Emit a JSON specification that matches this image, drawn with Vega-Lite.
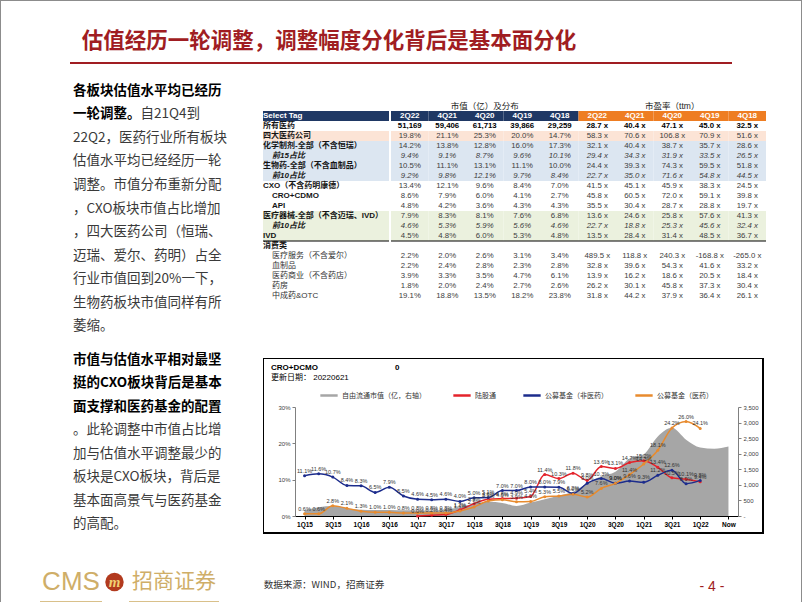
{
 "$schema": "https://vega.github.io/schema/vega-lite/v6.json",
 "padding": 0,
 "background": "#ffffff",
 "spacing": 0,
 "config": {"view": {"stroke": null}, "concat": {"spacing": 0}, "font": "Noto Sans CJK SC"},
 "datasets": {
  "para1": [
   {"line":1,"at":0,"part":"lead","t":"各板块估值水平均已经历"},
   {"line":2,"at":0,"part":"lead","t":"一轮调整。"},
   {"line":2,"at":5,"part":"body","t":"自21Q4到"},
   {"line":3,"at":0,"part":"body","t":"22Q2，医药行业所有板块"},
   {"line":4,"at":0,"part":"body","t":"估值水平均已经经历一轮"},
   {"line":5,"at":0,"part":"body","t":"调整。市值分布重新分配"},
   {"line":6,"at":0,"part":"body","t":"，CXO板块市值占比增加"},
   {"line":7,"at":0,"part":"body","t":"，四大医药公司（恒瑞、"},
   {"line":8,"at":0,"part":"body","t":"迈瑞、爱尔、药明）占全"},
   {"line":9,"at":0,"part":"body","t":"行业市值回到20%一下，"},
   {"line":10,"at":0,"part":"body","t":"生物药板块市值同样有所"},
   {"line":11,"at":0,"part":"body","t":"萎缩。"}
  ],
  "para2": [
   {"line":1,"at":0,"part":"lead","t":"市值与估值水平相对最坚"},
   {"line":2,"at":0,"part":"lead","t":"挺的CXO板块背后是基本"},
   {"line":3,"at":0,"part":"lead","t":"面支撑和医药基金的配置"},
   {"line":4,"at":0,"part":"body","t":"。此轮调整中市值占比增"},
   {"line":5,"at":0,"part":"body","t":"加与估值水平调整最少的"},
   {"line":6,"at":0,"part":"body","t":"板块是CXO板块，背后是"},
   {"line":7,"at":0,"part":"body","t":"基本面高景气与医药基金"},
   {"line":8,"at":0,"part":"body","t":"的高配。"}
  ],
  "table": [
   {"rid":0,"label":"","lvl":0,"kind":"title","grp":"none","mv2Q22":"","mv4Q21":"","mv4Q20":"市值（亿）及分布","mv4Q19":"","mv4Q18":"","pe2Q22":"","pe4Q21":"","pe4Q20":"市盈率（ttm）","pe4Q19":"","pe4Q18":""},
   {"rid":1,"label":"Select Tag","lvl":0,"kind":"header","grp":"header","mv2Q22":"2Q22","mv4Q21":"4Q21","mv4Q20":"4Q20","mv4Q19":"4Q19","mv4Q18":"4Q18","pe2Q22":"2Q22","pe4Q21":"4Q21","pe4Q20":"4Q20","pe4Q19":"4Q19","pe4Q18":"4Q18"},
   {"rid":2,"label":"所有医药","lvl":0,"kind":"total","grp":"none","mv2Q22":"51,169","mv4Q21":"59,406","mv4Q20":"61,713","mv4Q19":"39,866","mv4Q18":"29,259","pe2Q22":"28.7 x","pe4Q21":"40.4 x","pe4Q20":"47.1 x","pe4Q19":"45.0 x","pe4Q18":"32.5 x"},
   {"rid":3,"label":"四大医药公司","lvl":0,"kind":"main","grp":"big4","mv2Q22":"19.8%","mv4Q21":"21.1%","mv4Q20":"25.3%","mv4Q19":"20.0%","mv4Q18":"14.7%","pe2Q22":"58.3 x","pe4Q21":"70.6 x","pe4Q20":"106.8 x","pe4Q19":"70.9 x","pe4Q18":"51.6 x"},
   {"rid":4,"label":"化学制剂-全部（不含恒瑞）","lvl":0,"kind":"main","grp":"pharma","mv2Q22":"14.2%","mv4Q21":"13.8%","mv4Q20":"12.8%","mv4Q19":"16.0%","mv4Q18":"17.3%","pe2Q22":"32.1 x","pe4Q21":"40.4 x","pe4Q20":"38.7 x","pe4Q19":"35.7 x","pe4Q18":"28.6 x"},
   {"rid":5,"label":"前15占比","lvl":1,"kind":"share","grp":"pharma","mv2Q22":"9.4%","mv4Q21":"9.1%","mv4Q20":"8.7%","mv4Q19":"9.6%","mv4Q18":"10.1%","pe2Q22":"29.4 x","pe4Q21":"34.3 x","pe4Q20":"31.9 x","pe4Q19":"33.5 x","pe4Q18":"26.5 x"},
   {"rid":6,"label":"生物药-全部（不含血制品）","lvl":0,"kind":"main","grp":"pharma","mv2Q22":"10.5%","mv4Q21":"11.1%","mv4Q20":"13.1%","mv4Q19":"11.1%","mv4Q18":"10.0%","pe2Q22":"24.4 x","pe4Q21":"39.3 x","pe4Q20":"74.3 x","pe4Q19":"59.5 x","pe4Q18":"51.8 x"},
   {"rid":7,"label":"前10占比","lvl":1,"kind":"share","grp":"pharma","mv2Q22":"9.2%","mv4Q21":"9.8%","mv4Q20":"12.1%","mv4Q19":"9.7%","mv4Q18":"8.4%","pe2Q22":"22.7 x","pe4Q21":"35.0 x","pe4Q20":"71.6 x","pe4Q19":"54.8 x","pe4Q18":"44.5 x"},
   {"rid":8,"label":"CXO（不含药明康德）","lvl":0,"kind":"main","grp":"none","mv2Q22":"13.4%","mv4Q21":"12.1%","mv4Q20":"9.6%","mv4Q19":"8.4%","mv4Q18":"7.0%","pe2Q22":"41.5 x","pe4Q21":"45.1 x","pe4Q20":"45.9 x","pe4Q19":"38.3 x","pe4Q18":"24.5 x"},
   {"rid":9,"label":"CRO+CDMO","lvl":1,"kind":"sub","grp":"none","mv2Q22":"8.6%","mv4Q21":"7.9%","mv4Q20":"6.0%","mv4Q19":"4.1%","mv4Q18":"2.7%","pe2Q22":"45.8 x","pe4Q21":"60.5 x","pe4Q20":"72.0 x","pe4Q19":"59.1 x","pe4Q18":"39.8 x"},
   {"rid":10,"label":"API","lvl":1,"kind":"sub","grp":"none","mv2Q22":"4.8%","mv4Q21":"4.2%","mv4Q20":"3.6%","mv4Q19":"4.3%","mv4Q18":"4.3%","pe2Q22":"35.5 x","pe4Q21":"30.4 x","pe4Q20":"28.7 x","pe4Q19":"28.8 x","pe4Q18":"19.7 x"},
   {"rid":11,"label":"医疗器械-全部（不含迈瑞、IVD）","lvl":0,"kind":"main","grp":"device","mv2Q22":"7.9%","mv4Q21":"8.3%","mv4Q20":"8.1%","mv4Q19":"7.6%","mv4Q18":"6.8%","pe2Q22":"13.6 x","pe4Q21":"24.6 x","pe4Q20":"25.8 x","pe4Q19":"57.6 x","pe4Q18":"41.3 x"},
   {"rid":12,"label":"前10占比","lvl":1,"kind":"share","grp":"device","mv2Q22":"4.6%","mv4Q21":"5.3%","mv4Q20":"5.9%","mv4Q19":"5.6%","mv4Q18":"4.6%","pe2Q22":"22.7 x","pe4Q21":"18.8 x","pe4Q20":"25.3 x","pe4Q19":"45.6 x","pe4Q18":"32.4 x"},
   {"rid":13,"label":"IVD","lvl":0,"kind":"main","grp":"device","mv2Q22":"4.5%","mv4Q21":"4.8%","mv4Q20":"6.0%","mv4Q19":"5.3%","mv4Q18":"4.8%","pe2Q22":"13.5 x","pe4Q21":"28.4 x","pe4Q20":"31.4 x","pe4Q19":"48.5 x","pe4Q18":"36.7 x"},
   {"rid":14,"label":"消费类","lvl":0,"kind":"group","grp":"none","mv2Q22":"","mv4Q21":"","mv4Q20":"","mv4Q19":"","mv4Q18":"","pe2Q22":"","pe4Q21":"","pe4Q20":"","pe4Q19":"","pe4Q18":""},
   {"rid":15,"label":"医疗服务（不含爱尔）","lvl":1,"kind":"cons","grp":"none","mv2Q22":"2.2%","mv4Q21":"2.0%","mv4Q20":"2.6%","mv4Q19":"3.1%","mv4Q18":"3.4%","pe2Q22":"489.5 x","pe4Q21":"118.8 x","pe4Q20":"240.3 x","pe4Q19":"-168.8 x","pe4Q18":"-265.0 x"},
   {"rid":16,"label":"血制品","lvl":1,"kind":"cons","grp":"none","mv2Q22":"2.2%","mv4Q21":"2.4%","mv4Q20":"2.8%","mv4Q19":"2.3%","mv4Q18":"2.8%","pe2Q22":"32.8 x","pe4Q21":"39.6 x","pe4Q20":"54.3 x","pe4Q19":"41.6 x","pe4Q18":"33.2 x"},
   {"rid":17,"label":"医药商业（不含药店）","lvl":1,"kind":"cons","grp":"none","mv2Q22":"3.9%","mv4Q21":"3.3%","mv4Q20":"3.5%","mv4Q19":"4.7%","mv4Q18":"6.1%","pe2Q22":"13.9 x","pe4Q21":"16.2 x","pe4Q20":"18.6 x","pe4Q19":"20.5 x","pe4Q18":"18.4 x"},
   {"rid":18,"label":"药房","lvl":1,"kind":"cons","grp":"none","mv2Q22":"1.8%","mv4Q21":"2.0%","mv4Q20":"2.4%","mv4Q19":"2.7%","mv4Q18":"2.6%","pe2Q22":"26.2 x","pe4Q21":"30.1 x","pe4Q20":"45.8 x","pe4Q19":"37.3 x","pe4Q18":"30.4 x"},
   {"rid":19,"label":"中成药&OTC","lvl":1,"kind":"cons","grp":"none","mv2Q22":"19.1%","mv4Q21":"18.8%","mv4Q20":"13.5%","mv4Q19":"18.2%","mv4Q18":"23.8%","pe2Q22":"31.8 x","pe4Q21":"44.2 x","pe4Q20":"37.9 x","pe4Q19":"36.4 x","pe4Q18":"26.1 x"}
  ],
  "chart": [
   {"q":"1Q15","s":"自由流通市值（亿，右轴）","v":180},{"q":"2Q15","s":"自由流通市值（亿，右轴）","v":280},{"q":"3Q15","s":"自由流通市值（亿，右轴）","v":320},{"q":"4Q15","s":"自由流通市值（亿，右轴）","v":250},
   {"q":"1Q16","s":"自由流通市值（亿，右轴）","v":200},{"q":"2Q16","s":"自由流通市值（亿，右轴）","v":190},{"q":"3Q16","s":"自由流通市值（亿，右轴）","v":195},{"q":"4Q16","s":"自由流通市值（亿，右轴）","v":185},
   {"q":"1Q17","s":"自由流通市值（亿，右轴）","v":180},{"q":"2Q17","s":"自由流通市值（亿，右轴）","v":180},{"q":"3Q17","s":"自由流通市值（亿，右轴）","v":200},{"q":"4Q17","s":"自由流通市值（亿，右轴）","v":290},
   {"q":"1Q18","s":"自由流通市值（亿，右轴）","v":390},{"q":"2Q18","s":"自由流通市值（亿，右轴）","v":460},{"q":"3Q18","s":"自由流通市值（亿，右轴）","v":420},{"q":"4Q18","s":"自由流通市值（亿，右轴）","v":320},
   {"q":"1Q19","s":"自由流通市值（亿，右轴）","v":430},{"q":"2Q19","s":"自由流通市值（亿，右轴）","v":540},{"q":"3Q19","s":"自由流通市值（亿，右轴）","v":660},{"q":"4Q19","s":"自由流通市值（亿，右轴）","v":780},
   {"q":"1Q20","s":"自由流通市值（亿，右轴）","v":1050},{"q":"2Q20","s":"自由流通市值（亿，右轴）","v":1280},{"q":"3Q20","s":"自由流通市值（亿，右轴）","v":1420},{"q":"4Q20","s":"自由流通市值（亿，右轴）","v":1850},
   {"q":"1Q21","s":"自由流通市值（亿，右轴）","v":1980},{"q":"2Q21","s":"自由流通市值（亿，右轴）","v":2550},{"q":"3Q21","s":"自由流通市值（亿，右轴）","v":2830},{"q":"4Q21","s":"自由流通市值（亿，右轴）","v":2450},
   {"q":"1Q22","s":"自由流通市值（亿，右轴）","v":2200},{"q":"2Q22","s":"自由流通市值（亿，右轴）","v":2160},{"q":"Now","s":"自由流通市值（亿，右轴）","v":2230},
   {"q":"1Q17","s":"陆股通","v":0.000},{"q":"2Q17","s":"陆股通","v":0.002},{"q":"3Q17","s":"陆股通","v":0.004},{"q":"4Q17","s":"陆股通","v":0.017},
   {"q":"1Q18","s":"陆股通","v":0.034},{"q":"2Q18","s":"陆股通","v":0.046},{"q":"3Q18","s":"陆股通","v":0.048},{"q":"4Q18","s":"陆股通","v":0.049},
   {"q":"1Q19","s":"陆股通","v":0.054},{"q":"2Q19","s":"陆股通","v":0.114},{"q":"3Q19","s":"陆股通","v":0.103},{"q":"4Q19","s":"陆股通","v":0.118},
   {"q":"1Q20","s":"陆股通","v":0.098},{"q":"2Q20","s":"陆股通","v":0.136},{"q":"3Q20","s":"陆股通","v":0.131},{"q":"4Q20","s":"陆股通","v":0.147},
   {"q":"1Q21","s":"陆股通","v":0.152},{"q":"2Q21","s":"陆股通","v":0.134},{"q":"3Q21","s":"陆股通","v":0.105},{"q":"4Q21","s":"陆股通","v":0.101},
   {"q":"1Q22","s":"陆股通","v":0.094},
   {"q":"1Q15","s":"公募基金（非医药）","v":0.111},{"q":"2Q15","s":"公募基金（非医药）","v":0.116},{"q":"3Q15","s":"公募基金（非医药）","v":0.107},{"q":"4Q15","s":"公募基金（非医药）","v":0.084},
   {"q":"1Q16","s":"公募基金（非医药）","v":0.083},{"q":"2Q16","s":"公募基金（非医药）","v":0.065},{"q":"3Q16","s":"公募基金（非医药）","v":0.079},{"q":"4Q16","s":"公募基金（非医药）","v":0.055},
   {"q":"1Q17","s":"公募基金（非医药）","v":0.046},{"q":"2Q17","s":"公募基金（非医药）","v":0.045},{"q":"3Q17","s":"公募基金（非医药）","v":0.046},{"q":"4Q17","s":"公募基金（非医药）","v":0.040},
   {"q":"1Q18","s":"公募基金（非医药）","v":0.050},{"q":"2Q18","s":"公募基金（非医药）","v":0.051},{"q":"3Q18","s":"公募基金（非医药）","v":0.070},{"q":"4Q18","s":"公募基金（非医药）","v":0.070},
   {"q":"1Q19","s":"公募基金（非医药）","v":0.080},{"q":"2Q19","s":"公募基金（非医药）","v":0.080},{"q":"3Q19","s":"公募基金（非医药）","v":0.079},{"q":"4Q19","s":"公募基金（非医药）","v":0.062},
   {"q":"1Q20","s":"公募基金（非医药）","v":0.090},{"q":"2Q20","s":"公募基金（非医药）","v":0.103},{"q":"3Q20","s":"公募基金（非医药）","v":0.090},{"q":"4Q20","s":"公募基金（非医药）","v":0.096},
   {"q":"1Q21","s":"公募基金（非医药）","v":0.093},{"q":"2Q21","s":"公募基金（非医药）","v":0.112},{"q":"3Q21","s":"公募基金（非医药）","v":0.126},{"q":"4Q21","s":"公募基金（非医药）","v":0.089},
   {"q":"1Q22","s":"公募基金（非医药）","v":0.098},
   {"q":"1Q15","s":"公募基金（医药）","v":0.006},{"q":"2Q15","s":"公募基金（医药）","v":0.006},{"q":"3Q15","s":"公募基金（医药）","v":0.028},{"q":"4Q15","s":"公募基金（医药）","v":0.021},
   {"q":"1Q16","s":"公募基金（医药）","v":0.013},{"q":"2Q16","s":"公募基金（医药）","v":0.010},{"q":"3Q16","s":"公募基金（医药）","v":0.010},{"q":"4Q16","s":"公募基金（医药）","v":0.008},
   {"q":"1Q17","s":"公募基金（医药）","v":0.008},{"q":"2Q17","s":"公募基金（医药）","v":0.008},{"q":"3Q17","s":"公募基金（医药）","v":0.008},{"q":"4Q17","s":"公募基金（医药）","v":0.014},
   {"q":"1Q18","s":"公募基金（医药）","v":0.025},{"q":"2Q18","s":"公募基金（医药）","v":0.041},{"q":"3Q18","s":"公募基金（医药）","v":0.045},{"q":"4Q18","s":"公募基金（医药）","v":0.039},
   {"q":"1Q19","s":"公募基金（医药）","v":0.040},{"q":"2Q19","s":"公募基金（医药）","v":0.053},{"q":"3Q19","s":"公募基金（医药）","v":0.055},{"q":"4Q19","s":"公募基金（医药）","v":0.060},
   {"q":"1Q20","s":"公募基金（医药）","v":0.052},{"q":"2Q20","s":"公募基金（医药）","v":0.076},{"q":"3Q20","s":"公募基金（医药）","v":0.090},{"q":"4Q20","s":"公募基金（医药）","v":0.114},
   {"q":"1Q21","s":"公募基金（医药）","v":0.143},{"q":"2Q21","s":"公募基金（医药）","v":0.181},{"q":"3Q21","s":"公募基金（医药）","v":0.242},{"q":"4Q21","s":"公募基金（医药）","v":0.260},
   {"q":"1Q22","s":"公募基金（医药）","v":0.241}
  ]
 },
 "hconcat": [
  {"width": 1, "height": 602, "data": {"values": []}, "mark": "point", "view": {"fill": "#8c8c8c"}},
  {"spacing": 0, "vconcat": [
   {"width": 800, "height": 1, "data": {"values": []}, "mark": "point", "view": {"fill": "#8c8c8c"}},
   {"width": 800, "height": 21, "data": {"values": []}, "mark": "point"},
   {"spacing": 0, "hconcat": [
    {"width": 72, "height": 40, "data": {"values": []}, "mark": "point"},
    {"width": 512, "height": 40, "data": {"values": [{"t": "估值经历一轮调整，调整幅度分化背后是基本面分化"}]},
     "mark": {"type": "text", "fontSize": 21.5, "fontWeight": "bold", "color": "#A01D22", "align": "center", "baseline": "middle"},
     "encoding": {"text": {"field": "t"}}}
   ]},
   {"spacing": 0, "hconcat": [
    {"width": 69, "height": 2, "data": {"values": []}, "mark": "point"},
    {"width": 662, "height": 2, "data": {"values": []}, "mark": "point", "view": {"fill": "#A01D22"}}
   ]},
   {"spacing": 0, "hconcat": [
    {"width": 72, "height": 10, "data": {"values": []}, "mark": "point"},
    {"spacing": 0, "vconcat": [
     {"width": 189, "height": 14.5, "data": {"values": []}, "mark": "point"},
     {"width": 189, "height": 259, "data": {"name": "para1"},
      "encoding": {
       "x": {"field": "at", "type": "quantitative", "scale": {"domain": [0, 14]}, "axis": null},
       "y": {"field": "line", "type": "ordinal", "scale": {"type": "point", "domain": [1,2,3,4,5,6,7,8,9,10,11], "padding": 0.5}, "axis": null},
       "text": {"field": "t"}},
      "layer": [
       {"transform": [{"filter": "datum.part == 'lead'"}], "mark": {"type": "text", "align": "left", "baseline": "middle", "fontSize": 13.5, "fontWeight": "bold", "color": "#000000"}},
       {"transform": [{"filter": "datum.part == 'body'"}], "mark": {"type": "text", "align": "left", "baseline": "middle", "fontSize": 13.5, "color": "#3a3a3a"}}
      ]},
     {"width": 189, "height": 10, "data": {"values": []}, "mark": "point"},
     {"width": 189, "height": 188, "data": {"name": "para2"},
      "encoding": {
       "x": {"field": "at", "type": "quantitative", "scale": {"domain": [0, 14]}, "axis": null},
       "y": {"field": "line", "type": "ordinal", "scale": {"type": "point", "domain": [1,2,3,4,5,6,7,8], "padding": 0.5}, "axis": null},
       "text": {"field": "t"}},
      "layer": [
       {"transform": [{"filter": "datum.part == 'lead'"}], "mark": {"type": "text", "align": "left", "baseline": "middle", "fontSize": 13.5, "fontWeight": "bold", "color": "#000000"}},
       {"transform": [{"filter": "datum.part == 'body'"}], "mark": {"type": "text", "align": "left", "baseline": "middle", "fontSize": 13.5, "color": "#3a3a3a"}}
      ]}
    ]},
    {"spacing": 0, "vconcat": [
     {"width": 501, "height": 37, "data": {"values": []}, "mark": "point"},
     {"spacing": 0, "hconcat": [
      {"width": 126, "height": 200, "data": {"name": "table"},
       "encoding": {"y": {"field": "rid", "type": "ordinal", "scale": {"type": "band", "domain": [0,1,2,3,4,5,6,7,8,9,10,11,12,13,14,15,16,17,18,19], "paddingInner": 0, "paddingOuter": 0}, "axis": null}},
       "layer": [
        {"transform": [{"filter": "datum.grp != 'none'"}], "mark": {"type": "rect"},
         "encoding": {"x": {"datum": 0, "type": "quantitative", "scale": {"domain": [0, 14]}, "axis": null}, "x2": {"datum": 14},
          "fill": {"field": "grp", "type": "nominal", "scale": {"domain": ["header","big4","pharma","device"], "range": ["#1F3864","#FCE4D6","#DCE6F1","#EBF1DE"]}, "legend": null}}},
        {"transform": [{"filter": "datum.kind == 'total' || datum.kind == 'main' || datum.kind == 'sub' || datum.kind == 'group'"}],
         "mark": {"type": "text", "align": "left", "baseline": "middle", "fontSize": 8, "fontWeight": "bold", "color": "#151515", "font": "Liberation Sans, Noto Sans CJK SC"},
         "encoding": {"x": {"field": "lvl", "type": "quantitative", "scale": {"domain": [0, 14]}, "axis": null}, "text": {"field": "label"}}},
        {"transform": [{"filter": "datum.kind == 'share'"}],
         "mark": {"type": "text", "align": "left", "baseline": "middle", "fontSize": 8, "fontWeight": "bold", "fontStyle": "italic", "color": "#151515", "font": "Liberation Sans, Noto Sans CJK SC"},
         "encoding": {"x": {"field": "lvl", "type": "quantitative", "scale": {"domain": [0, 14]}, "axis": null}, "text": {"field": "label"}}},
        {"transform": [{"filter": "datum.kind == 'cons'"}],
         "mark": {"type": "text", "align": "left", "baseline": "middle", "fontSize": 8, "color": "#333333", "font": "Liberation Sans, Noto Sans CJK SC"},
         "encoding": {"x": {"field": "lvl", "type": "quantitative", "scale": {"domain": [0, 14]}, "axis": null}, "text": {"field": "label"}}},
        {"transform": [{"filter": "datum.kind == 'header'"}],
         "mark": {"type": "text", "align": "left", "baseline": "middle", "fontSize": 8, "fontWeight": "bold", "color": "#ffffff", "font": "Liberation Sans, Noto Sans CJK SC"},
         "encoding": {"x": {"field": "lvl", "type": "quantitative", "scale": {"domain": [0, 14]}, "axis": null}, "text": {"field": "label"}}},
        {"transform": [{"filter": "datum.kind == 'group'"}], "mark": {"type": "rule", "color": "#000000", "strokeWidth": 1},
         "encoding": {"y": {"field": "rid", "type": "ordinal", "bandPosition": 0}}}
       ]},
      {"width": 375, "height": 200, "data": {"name": "table"},
       "transform": [{"fold": ["mv2Q22","mv4Q21","mv4Q20","mv4Q19","mv4Q18","pe2Q22","pe4Q21","pe4Q20","pe4Q19","pe4Q18"], "as": ["col","v"]}],
       "encoding": {"y": {"field": "rid", "type": "ordinal", "scale": {"type": "band", "domain": [0,1,2,3,4,5,6,7,8,9,10,11,12,13,14,15,16,17,18,19], "paddingInner": 0, "paddingOuter": 0}, "axis": null}},
       "layer": [
        {"transform": [{"filter": "datum.kind == 'header'"}], "mark": {"type": "rect"},
         "encoding": {"x": {"field": "col", "type": "nominal", "scale": {"type": "band", "domain": ["mv2Q22","mv4Q21","mv4Q20","mv4Q19","mv4Q18","pe2Q22","pe4Q21","pe4Q20","pe4Q19","pe4Q18"], "paddingInner": 0, "paddingOuter": 0}, "axis": null},
          "fill": {"condition": {"test": "indexof(datum.col, 'mv') == 0", "value": "#1F3864"}, "value": "#EE7D22"}}},
        {"transform": [{"filter": "datum.grp == 'big4' || datum.grp == 'pharma' || datum.grp == 'device'"}], "mark": {"type": "rect"},
         "encoding": {"x": {"field": "col", "type": "nominal", "axis": null},
          "fill": {"condition": [{"test": "datum.grp == 'big4'", "value": "#FCE4D6"}, {"test": "datum.grp == 'pharma'", "value": "#DCE6F1"}], "value": "#EBF1DE"}}},
        {"transform": [{"filter": "datum.kind == 'header'"}],
         "mark": {"type": "text", "align": "center", "baseline": "middle", "fontSize": 8, "fontWeight": "bold", "color": "#ffffff", "font": "Liberation Sans, Noto Sans CJK SC"},
         "encoding": {"x": {"field": "col", "type": "nominal", "axis": null}, "text": {"field": "v"}}},
        {"transform": [{"filter": "datum.kind == 'title' && datum.v != ''"}],
         "mark": {"type": "text", "align": "center", "baseline": "middle", "fontSize": 8.5, "color": "#222222", "font": "Liberation Sans, Noto Sans CJK SC"},
         "encoding": {"x": {"field": "col", "type": "nominal", "axis": null}, "text": {"field": "v"}}},
        {"transform": [{"filter": "datum.kind == 'total'"}],
         "mark": {"type": "text", "align": "center", "baseline": "middle", "fontSize": 7.8, "fontWeight": "bold", "color": "#000000", "font": "Liberation Sans"},
         "encoding": {"x": {"field": "col", "type": "nominal", "axis": null}, "text": {"field": "v"}}},
        {"transform": [{"filter": "datum.kind == 'share'"}],
         "mark": {"type": "text", "align": "center", "baseline": "middle", "fontSize": 7.8, "fontStyle": "italic", "color": "#404040", "font": "Liberation Sans"},
         "encoding": {"x": {"field": "col", "type": "nominal", "axis": null}, "text": {"field": "v"}}},
        {"transform": [{"filter": "datum.kind == 'main' || datum.kind == 'sub' || datum.kind == 'cons'"}],
         "mark": {"type": "text", "align": "center", "baseline": "middle", "fontSize": 7.8, "color": "#404040", "font": "Liberation Sans"},
         "encoding": {"x": {"field": "col", "type": "nominal", "axis": null}, "text": {"field": "v"}}},
        {"transform": [{"filter": "datum.kind == 'group' && datum.col == 'mv2Q22'"}], "mark": {"type": "rule", "color": "#000000", "strokeWidth": 1},
         "encoding": {"y": {"field": "rid", "type": "ordinal", "bandPosition": 0}}}
       ]}
     ]},
     {"width": 501, "height": 57, "data": {"values": []}, "mark": "point"},
     {"spacing": 0, "vconcat": [
      {"width": 501, "height": 1, "data": {"values": []}, "mark": "point", "view": {"fill": "#000000"}},
      {"spacing": 0, "hconcat": [
       {"width": 1, "height": 173, "data": {"values": []}, "mark": "point", "view": {"fill": "#000000"}},
       {"spacing": 0, "vconcat": [
        {"width": 498, "height": 4, "data": {"values": []}, "mark": "point"},
        {"spacing": 0, "hconcat": [
         {"width": 7, "height": 20, "data": {"values": []}, "mark": "point"},
         {"width": 248, "height": 20,
          "data": {"values": [{"line": "name", "slot": "left", "t": "CRO+DCMO"}, {"line": "name", "slot": "right", "t": "0"}, {"line": "date", "slot": "left", "t": "更新日期：  20220621"}]},
          "encoding": {
           "x": {"field": "slot", "type": "nominal", "bandPosition": 0, "scale": {"type": "band", "domain": ["left", "right"], "paddingInner": 0, "paddingOuter": 0}, "axis": null},
           "y": {"field": "line", "type": "nominal", "scale": {"type": "point", "domain": ["name", "date"], "padding": 0.5}, "axis": null},
           "text": {"field": "t"}},
          "layer": [
           {"transform": [{"filter": "datum.line == 'name'"}], "mark": {"type": "text", "align": "left", "baseline": "middle", "fontSize": 8, "fontWeight": "bold", "color": "#000000", "font": "Liberation Sans, Noto Sans CJK SC"}},
           {"transform": [{"filter": "datum.line == 'date'"}], "mark": {"type": "text", "align": "left", "baseline": "middle", "fontSize": 8, "color": "#000000", "font": "Liberation Sans, Noto Sans CJK SC"}}
          ]}
        ]},
        {"width": 498, "height": 149, "data": {"name": "chart"},
         "encoding": {
          "x": {"field": "q", "type": "ordinal",
           "sort": ["1Q15","2Q15","3Q15","4Q15","1Q16","2Q16","3Q16","4Q16","1Q17","2Q17","3Q17","4Q17","1Q18","2Q18","3Q18","4Q18","1Q19","2Q19","3Q19","4Q19","1Q20","2Q20","3Q20","4Q20","1Q21","2Q21","3Q21","4Q21","1Q22","2Q22","Now"],
           "scale": {"type": "point", "domain": ["1Q15","2Q15","3Q15","4Q15","1Q16","2Q16","3Q16","4Q16","1Q17","2Q17","3Q17","4Q17","1Q18","2Q18","3Q18","4Q18","1Q19","2Q19","3Q19","4Q19","1Q20","2Q20","3Q20","4Q20","1Q21","2Q21","3Q21","4Q21","1Q22","2Q22","Now"], "padding": 0.675, "range": [31, 474]},
           "axis": {"values": ["1Q15","3Q15","1Q16","3Q16","1Q17","3Q17","1Q18","3Q18","1Q19","3Q19","1Q20","3Q20","1Q21","3Q21","1Q22","Now"], "offset": -16, "title": null, "labelAngle": 0, "labelFontSize": 6.5, "labelFontWeight": "bold", "labelColor": "#000000", "labelFont": "Liberation Sans", "tickSize": 3, "tickColor": "#000000", "domainColor": "#000000", "labelPadding": 2, "grid": false}}},
         "layer": [
          {"transform": [{"filter": "datum.s == '自由流通市值（亿，右轴）'"}],
           "mark": {"type": "area", "interpolate": "monotone", "opacity": 1},
           "encoding": {
            "y": {"field": "v", "type": "quantitative", "stack": null, "scale": {"domain": [0, 3500], "nice": false, "range": [133, 24]},
             "axis": {"orient": "right", "offset": -24, "values": [0,500,1000,1500,2000,2500,3000,3500], "labelExpr": "datum.value == 0 ? '-' : format(datum.value, ',')", "title": null, "labelFontSize": 6, "labelColor": "#404040", "labelFont": "Liberation Sans", "tickSize": 3, "tickColor": "#808080", "domainColor": "#808080", "grid": false, "labelPadding": 2}},
            "color": {"field": "s", "type": "nominal",
             "scale": {"domain": ["自由流通市值（亿，右轴）","陆股通","公募基金（非医药）","公募基金（医药）"], "range": ["#A6A6A6","#E4232B","#1C2C8C","#E88B2E"]},
             "legend": {"orient": "none", "legendX": 319, "legendY": 385.5, "direction": "horizontal", "title": null, "symbolType": "stroke", "symbolStrokeWidth": 2.5, "symbolSize": 300, "labelFontSize": 7, "labelColor": "#333333", "columnPadding": 22, "labelOffset": 3, "padding": 0}}}},
          {"layer": [
           {"transform": [{"filter": "datum.s != '自由流通市值（亿，右轴）'"}],
            "mark": {"type": "line", "interpolate": "monotone", "strokeWidth": 1.5, "point": {"filled": true, "size": 9}},
            "encoding": {
             "y": {"field": "v", "type": "quantitative", "scale": {"domain": [0, 0.3], "nice": false, "range": [133, 24]},
              "axis": {"orient": "left", "offset": -31, "values": [0,0.05,0.1,0.15,0.2,0.25,0.3], "format": ".0%", "title": null, "labelFontSize": 6, "labelColor": "#404040", "labelFont": "Liberation Sans", "tickSize": 3, "tickColor": "#808080", "domainColor": "#808080", "grid": false, "labelPadding": 2}},
             "color": {"field": "s", "type": "nominal",
              "scale": {"domain": ["自由流通市值（亿，右轴）","陆股通","公募基金（非医药）","公募基金（医药）"], "range": ["#A6A6A6","#E4232B","#1C2C8C","#E88B2E"]},
              "legend": {"orient": "none", "legendX": 319, "legendY": 385.5, "direction": "horizontal", "title": null, "symbolType": "stroke", "symbolStrokeWidth": 2.5, "symbolSize": 300, "labelFontSize": 7, "labelColor": "#333333", "columnPadding": 22, "labelOffset": 3, "padding": 0}}}},
           {"transform": [{"filter": "datum.s != '自由流通市值（亿，右轴）'"}],
            "mark": {"type": "text", "fontSize": 5.5, "dy": -5, "color": "#333333", "font": "Liberation Sans"},
            "encoding": {"y": {"field": "v", "type": "quantitative"}, "text": {"field": "v", "type": "quantitative", "format": ".1%"}}}
          ]}
         ],
         "resolve": {"scale": {"y": "independent"}}}
       ]},
       {"width": 2, "height": 173, "data": {"values": []}, "mark": "point", "view": {"fill": "#000000"}}
      ]},
      {"width": 501, "height": 2, "data": {"values": []}, "mark": "point", "view": {"fill": "#000000"}}
     ]}
    ]}
   ]},
   {"spacing": 0, "hconcat": [
    {"width": 39, "height": 65.5, "data": {"values": []}, "mark": "point"},
    {"spacing": 0, "vconcat": [
     {"width": 179, "height": 29.5, "data": {"values": []}, "mark": "point"},
     {"spacing": 0, "hconcat": [
      {"width": 62, "height": 32, "data": {"values": [{"t": "CMS"}]}, "mark": {"type": "text", "font": "Liberation Sans", "fontSize": 26, "color": "#CFAE68", "align": "center", "baseline": "middle"}, "encoding": {"text": {"field": "t"}}},
      {"width": 25, "height": 32, "data": {"values": [{"t": "m"}]}, "layer": [
       {"mark": {"type": "point", "shape": "circle", "filled": true, "size": 340, "color": "#B23A1E", "opacity": 1}},
       {"mark": {"type": "text", "font": "Liberation Serif", "fontSize": 15, "fontWeight": "bold", "fontStyle": "italic", "color": "#F0CF73", "align": "center", "baseline": "middle"}, "encoding": {"text": {"field": "t"}}}
      ]},
      {"width": 2, "height": 32, "data": {"values": []}, "mark": "point"},
      {"width": 90, "height": 32, "data": {"values": [{"t": "招商证券"}]}, "mark": {"type": "text", "fontSize": 21, "color": "#CFAE68", "align": "center", "baseline": "middle"}, "encoding": {"text": {"field": "t"}}}
     ]},
     {"width": 179, "height": 2.5, "data": {"values": []}, "mark": "point"},
     {"spacing": 0, "hconcat": [
      {"width": 62, "height": 1.5, "data": {"values": []}, "mark": "point", "view": {"fill": "#D9C08A"}},
      {"width": 27, "height": 1.5, "data": {"values": []}, "mark": "point"},
      {"width": 90, "height": 1.5, "data": {"values": []}, "mark": "point", "view": {"fill": "#D9C08A"}}
     ]}
    ]},
    {"width": 39.5, "height": 10, "data": {"values": []}, "mark": "point"},
    {"spacing": 0, "vconcat": [
     {"width": 130, "height": 40, "data": {"values": []}, "mark": "point"},
     {"width": 130, "height": 18, "data": {"values": [{"t": "数据来源：WIND，招商证券"}]}, "mark": {"type": "text", "fontSize": 9.6, "color": "#333333", "align": "center", "baseline": "middle"}, "encoding": {"text": {"field": "t"}}}
    ]},
    {"width": 308, "height": 10, "data": {"values": []}, "mark": "point"},
    {"spacing": 0, "vconcat": [
     {"width": 30, "height": 42, "data": {"values": []}, "mark": "point"},
     {"width": 30, "height": 18, "data": {"values": [{"t": "- 4 -"}]}, "mark": {"type": "text", "font": "Liberation Sans", "fontSize": 14, "color": "#A01D22", "align": "center", "baseline": "middle"}, "encoding": {"text": {"field": "t"}}}
    ]}
   ]},
   {"width": 800, "height": 1, "data": {"values": []}, "mark": "point", "view": {"fill": "#8c8c8c"}}
  ]},
  {"width": 1, "height": 602, "data": {"values": []}, "mark": "point", "view": {"fill": "#8c8c8c"}}
 ]
}
